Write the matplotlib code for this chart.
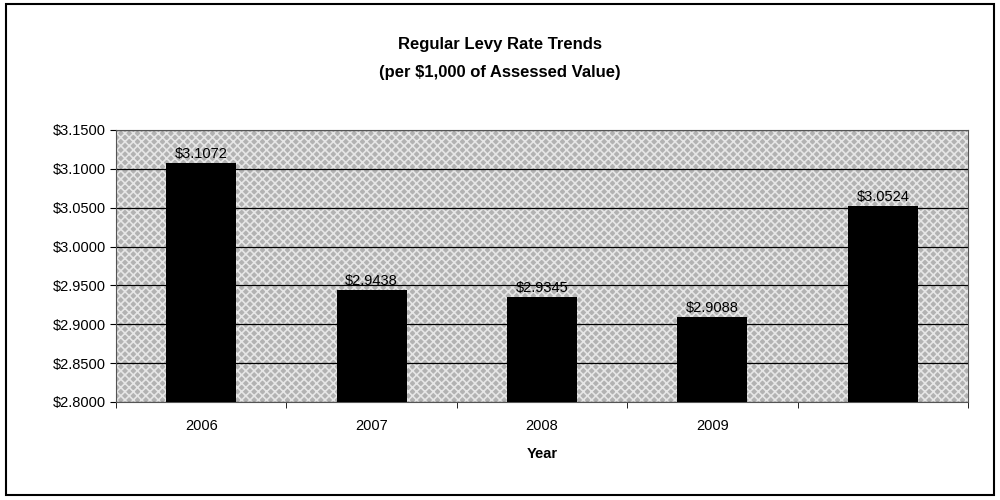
import matplotlib.pyplot as plt
from matplotlib.patches import Rectangle

# Datos del gráfico
anios = ["2006", "2007", "2008", "2009", ""]
tasas = [3.1072, 2.9438, 2.9345, 2.9088, 3.0524]
etiquetas = ["$3.1072", "$2.9438", "$2.9345", "$2.9088", "$3.0524"]
marcas_y = [2.80, 2.85, 2.90, 2.95, 3.00, 3.05, 3.10, 3.15]

plt.rcParams["font.family"] = ["Liberation Sans", "DejaVu Sans"]
plt.rcParams["hatch.linewidth"] = 1.2

fig = plt.figure(figsize=(10, 5), dpi=100)
fig.patch.set_facecolor("white")

# Marco exterior
fig.patches.append(Rectangle((0.006, 0.01), 0.988, 0.982, transform=fig.transFigure,
                             fill=False, edgecolor="black", linewidth=1.5))

ax = fig.add_axes([0.116, 0.196, 0.852, 0.544])
ax.set_facecolor("#b2b2b2")
ax.patch.set_hatch("xxxx")
ax.patch.set_edgecolor("#e6e6e6")

x = range(len(anios))
ax.bar(x, tasas, width=0.41, color="black", zorder=3)

for i, (v, t) in enumerate(zip(tasas, etiquetas)):
    ax.text(i, v + 0.003, t, ha="center", va="bottom", fontsize=10.5, zorder=4)

ax.set_ylim(2.80, 3.15)
ax.set_xlim(-0.5, len(anios) - 0.5)
ax.set_yticks(marcas_y)
ax.set_yticklabels([f"${v:.4f}" for v in marcas_y], fontsize=10.5)
ax.yaxis.grid(True, color="black", linewidth=0.9, zorder=1)
ax.set_axisbelow(True)

ax.set_xticks(list(x))
ax.set_xticklabels(anios, fontsize=10.5)
ax.tick_params(axis="x", length=0, pad=12)
ax.set_xticks([i - 0.5 for i in range(len(anios) + 1)], minor=True)
ax.tick_params(axis="x", which="minor", length=4, color="black")
ax.tick_params(axis="y", length=4, color="black")

for s in ax.spines.values():
    s.set_color("#555555")
    s.set_linewidth(0.8)

ax.set_xlabel("Year", fontsize=10.5, fontweight="bold", labelpad=10)

fig.text(0.5, 0.91, "Regular Levy Rate Trends", ha="center", va="center",
         fontsize=12, fontweight="bold")
fig.text(0.5, 0.855, "(per $1,000 of Assessed Value)", ha="center", va="center",
         fontsize=12, fontweight="bold")

fig.savefig("out.png", dpi=100)
